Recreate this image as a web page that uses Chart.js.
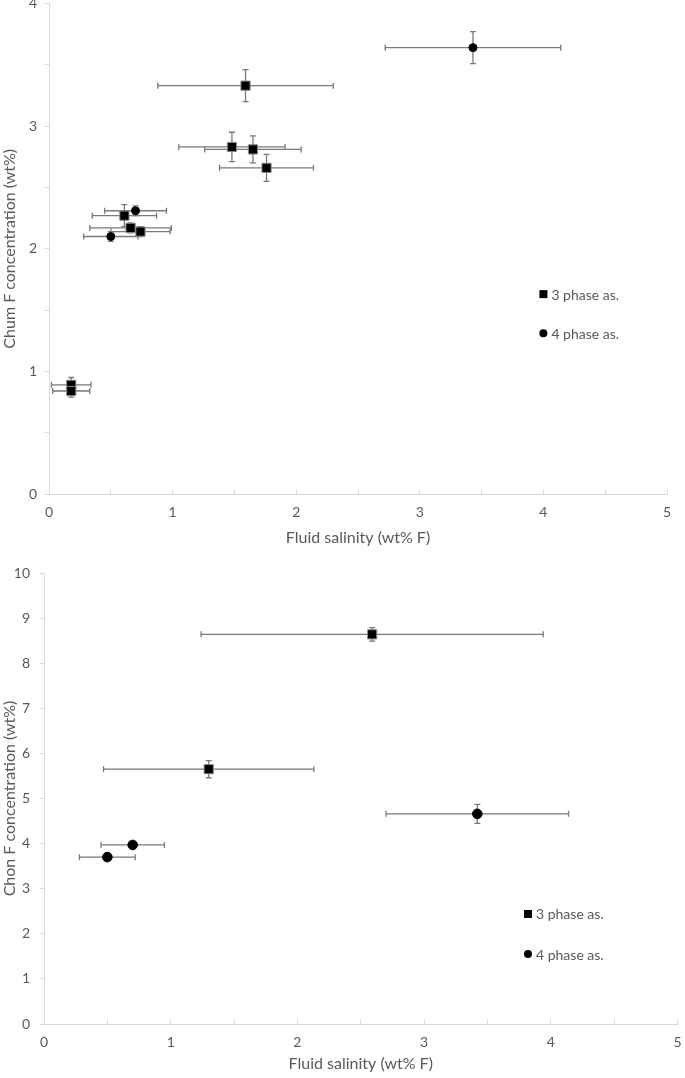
<!DOCTYPE html>
<html>
<head>
<meta charset="utf-8">
<script src="https://cdn.jsdelivr.net/npm/chart.js@4/dist/chart.umd.min.js"></script>
<style>
  body { margin: 0; background: #fff; }
  #top { position: absolute; left: 0; top: -4px; }
  #bottom { position: absolute; left: 0; top: 550px; }
</style>
</head>
<body>
<canvas id="top" width="685" height="554"></canvas>
<canvas id="bottom" width="685" height="528"></canvas>
<script>
// Chum (top chart) - 3 phase assemblage
const chum3X = [1.59, 1.48, 1.65, 1.76, 0.61, 0.66, 0.74, 0.18, 0.18];
const chum3Y = [3.33, 2.83, 2.81, 2.66, 2.27, 2.17, 2.14, 0.89, 0.84];
const chum3XErr = [0.71, 0.43, 0.39, 0.38, 0.26, 0.33, 0.24, 0.16, 0.15];
const chum3YErr = [0.13, 0.12, 0.11, 0.11, 0.09, 0.04, 0.04, 0.06, 0.05];
// Chum - 4 phase assemblage
const chum4X = [3.43, 0.70, 0.50];
const chum4Y = [3.64, 2.31, 2.10];
const chum4XErr = [0.71, 0.25, 0.22];
const chum4YErr = [0.13, 0.04, 0.04];

// Chon (bottom chart)
const chon3X = [2.59, 1.30];
const chon3Y = [8.64, 5.65];
const chon3XErr = [1.35, 0.83];
const chon3YErr = [0.15, 0.19];
const chon4X = [3.42, 0.70, 0.50];
const chon4Y = [4.66, 3.97, 3.70];
const chon4XErr = [0.72, 0.25, 0.22];
const chon4YErr = [0.21, 0.06, 0.06];

const seriesNames = ['3 phase as.', '4 phase as.'];
const xTitle = 'Fluid salinity (wt% F)';

const textColor = '#595959';
const axisColor = '#d9d9d9';
const barColor = '#7a7a7a';
const fontFamily = 'Lato, "Open Sans", sans-serif';

function points(xs, ys) {
  return xs.map((x, i) => ({ x: x, y: ys[i] }));
}

// error bars, drawn under the markers
const errorBars = {
  id: 'errorBars',
  beforeDatasetsDraw(chart) {
    const ctx = chart.ctx;
    const xs = chart.scales.x, ys = chart.scales.y;
    ctx.save();
    ctx.strokeStyle = barColor;
    ctx.lineWidth = 1.3;
    chart.data.datasets.forEach((ds) => {
      ds.data.forEach((p, i) => {
        const px = xs.getPixelForValue(p.x);
        const py = ys.getPixelForValue(p.y);
        const x1 = xs.getPixelForValue(p.x - ds.xErr[i]);
        const x2 = xs.getPixelForValue(p.x + ds.xErr[i]);
        const y1 = ys.getPixelForValue(p.y - ds.yErr[i]);
        const y2 = ys.getPixelForValue(p.y + ds.yErr[i]);
        const c = 3;
        ctx.beginPath();
        ctx.moveTo(x1, py); ctx.lineTo(x2, py);
        ctx.moveTo(x1, py - c); ctx.lineTo(x1, py + c);
        ctx.moveTo(x2, py - c); ctx.lineTo(x2, py + c);
        ctx.moveTo(px, y1); ctx.lineTo(px, y2);
        ctx.moveTo(px - c, y1); ctx.lineTo(px + c, y1);
        ctx.moveTo(px - c, y2); ctx.lineTo(px + c, y2);
        ctx.stroke();
      });
    });
    ctx.restore();
  }
};

// legend inside the plot area
const innerLegend = {
  id: 'innerLegend',
  afterDraw(chart, args, opts) {
    const ctx = chart.ctx;
    const xs = chart.scales.x, ys = chart.scales.y;
    ctx.save();
    ctx.font = '14px ' + fontFamily;
    ctx.textBaseline = 'middle';
    chart.data.datasets.forEach((ds, i) => {
      const px = xs.getPixelForValue(opts.x);
      const py = ys.getPixelForValue(opts.y[i]);
      ctx.fillStyle = '#000';
      if (ds.pointStyle === 'rect') {
        ctx.fillRect(px - 4, py - 4, 8, 8);
      } else {
        ctx.beginPath();
        ctx.arc(px, py, 4, 0, Math.PI * 2);
        ctx.fill();
      }
      ctx.fillStyle = textColor;
      ctx.fillText(ds.label, px + 8, py + 1);
    });
    ctx.restore();
  }
};

function makeChart(id, d3, d4, cfg) {
  return new Chart(document.getElementById(id), {
    type: 'scatter',
    data: {
      datasets: [{
        label: seriesNames[0],
        data: points(d3[0], d3[1]),
        xErr: d3[2], yErr: d3[3],
        pointStyle: 'rect',
        pointRadius: 6.5,
        backgroundColor: '#000',
        borderColor: '#8a8a8a',
        borderWidth: 1
      }, {
        label: seriesNames[1],
        data: points(d4[0], d4[1]),
        xErr: d4[2], yErr: d4[3],
        pointStyle: 'circle',
        pointRadius: cfg.circleR,
        backgroundColor: '#000',
        borderColor: '#000',
        borderWidth: 1
      }]
    },
    options: {
      responsive: false,
      animation: false,
      layout: { padding: cfg.padding },
      plugins: {
        legend: { display: false },
        tooltip: { enabled: false },
        innerLegend: cfg.legend
      },
      scales: {
        x: {
          type: 'linear',
          min: 0, max: 5,
          grid: { drawOnChartArea: false, color: axisColor, tickLength: -5 },
          border: { color: axisColor, width: 1 },
          ticks: {
            stepSize: 0.5, autoSkip: false, padding: 15,
            color: textColor, font: { family: fontFamily, size: 14 },
            callback: (v) => Number.isInteger(v) ? v : ''
          },
          title: {
            display: true, text: xTitle, color: textColor,
            font: { family: fontFamily, size: 16 },
            padding: { top: 0, bottom: cfg.xTitlePad }
          },
          afterFit(s) { s.height = cfg.xHeight; s.paddingLeft = 0; s.paddingRight = 0; }
        },
        y: {
          type: 'linear',
          min: 0, max: cfg.yMax,
          grid: { drawOnChartArea: false, color: axisColor, tickLength: 4 },
          border: { color: axisColor, width: 1 },
          ticks: {
            stepSize: cfg.yStep, autoSkip: false, padding: cfg.yTickPad,
            color: textColor, font: { family: fontFamily, size: 14 },
            callback: (v) => Number.isInteger(v) ? v : ''
          },
          title: {
            display: true, text: cfg.yTitle, color: textColor,
            font: { family: fontFamily, size: 16 },
            padding: { top: 0, bottom: 0 }
          },
          afterFit(s) { s.width = cfg.yWidth; s.paddingTop = 0; s.paddingBottom = 0; }
        }
      }
    },
    plugins: [errorBars, innerLegend]
  });
}

const chumChart = makeChart('top',
  [chum3X, chum3Y, chum3XErr, chum3YErr],
  [chum4X, chum4Y, chum4XErr, chum4YErr],
  {
    yTitle: 'Chum F concentration (wt%)',
    yMax: 4, yStep: 0.5, yTickPad: 8,
    yWidth: 49, xHeight: 56, xTitlePad: 3,
    circleR: 4,
    padding: { top: 4, right: 18, left: 0, bottom: 0 },
    legend: { x: 4.0, y: [1.63, 1.31] }
  });

const chonChart = makeChart('bottom',
  [chon3X, chon3Y, chon3XErr, chon3YErr],
  [chon4X, chon4Y, chon4XErr, chon4YErr],
  {
    yTitle: 'Chon F concentration (wt%)',
    yMax: 10, yStep: 1, yTickPad: 10,
    yWidth: 44, xHeight: 54, xTitlePad: 5,
    circleR: 4.8,
    padding: { top: 23, right: 5, left: 0, bottom: 0 },
    legend: { x: 3.82, y: [2.44, 1.55] }
  });
</script>
</body>
</html>
